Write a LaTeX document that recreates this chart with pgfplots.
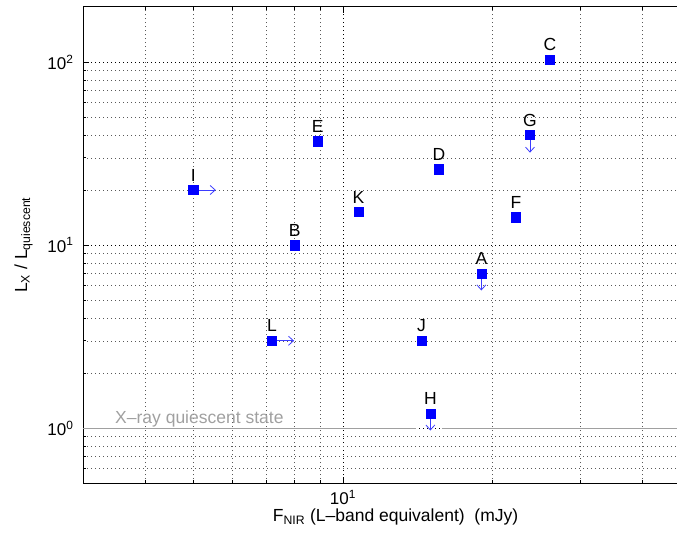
\documentclass[border=0pt]{standalone}
\usepackage{fontspec}
\setmainfont{Liberation Sans}
\usepackage{pgfplots}
\usepackage{pgfplotstable}
\pgfplotsset{compat=1.18}
\usetikzlibrary{arrows.meta}

\definecolor{mkblue}{RGB}{0,0,255}
\definecolor{arrblue}{RGB}{60,60,255}
\definecolor{qgray}{RGB}{160,160,160}

\pgfplotstableread{
x y lab
26.1 103 C
23.8 40 G
8.9 37 E
15.6 26 D
5.0 20 I
10.75 15.2 K
22.3 14.2 F
8.0 10 B
19.0 7 A
7.2 3 L
14.4 3 J
15.0 1.2 H
}\pts

\newcommand{\fs}{\fontsize{17.5}{19}\selectfont}
\newcommand{\ft}{\fontsize{17}{19}\selectfont}

\begin{document}
\begin{tikzpicture}
\begin{axis}[
  xmode=log, ymode=log,
  scale only axis,
  width=607.2pt, height=476.2pt,
  xmin=3, xmax=50, ymin=0.5, ymax=200,
  xtick={10}, xticklabels={10\textsuperscript{1}},
  ytick={1,10,100}, yticklabels={10\textsuperscript{0},10\textsuperscript{1},10\textsuperscript{2}},
  minor xtick={4,5,6,7,8,9,20,30,40},
  minor ytick={0.6,0.7,0.8,0.9,2,3,4,5,6,7,8,9,20,30,40,50,60,70,80,90},
  grid=both,
  major grid style={black, line width=0.5pt, dash pattern=on 0.8pt off 3.2pt},
  minor grid style={black!65, line width=0.5pt, dash pattern=on 0.8pt off 3.2pt},
  tick align=inside,
  major tick length=6pt, minor tick length=3pt,
  tick style={black, line width=0.6pt},
  axis line style={black, line width=1pt},
  ticklabel style={font=\ft},
  xticklabel style={inner sep=0pt, yshift=-7pt},
  yticklabel style={xshift=-6pt},
  xlabel={F\textsubscript{NIR} (L–band equivalent)\ \ (mJy)},
  ylabel={L\textsubscript{X} / L\textsubscript{quiescent}},
  label style={font=\fs},
  xlabel style={inner sep=0pt, yshift=-4pt, xshift=9pt},
  ylabel style={yshift=8pt},
  clip=false,
]
\coordinate (bl) at (rel axis cs:0,0);
\coordinate (tl) at (rel axis cs:0,1);

% quiescent level
\addplot[qgray, line width=1.1pt, forget plot] coordinates {(3,1) (14.06,1)};
\addplot[qgray, line width=1.1pt, forget plot] coordinates {(15.8,1) (50,1)};
\node[anchor=base west, inner sep=0pt, text=qgray, font=\fs] at (axis cs:3.48,1.061) {X–ray quiescent state};

% limit arrows
\addplot[arrblue, line width=0.8pt, -{Straight Barb[length=5pt,width=9pt]}] coordinates {(5.0,20) (5.55,20)};
\addplot[arrblue, line width=0.8pt, -{Straight Barb[length=5pt,width=9pt]}] coordinates {(7.2,3) (7.98,3)};
\addplot[arrblue, line width=0.8pt, -{Straight Barb[length=5pt,width=9pt]}] coordinates {(23.8,40) (23.8,32.0)};
\addplot[arrblue, line width=0.8pt, -{Straight Barb[length=5pt,width=9pt]}] coordinates {(19.0,7) (19.0,5.65)};
\addplot[arrblue, line width=0.8pt, -{Straight Barb[length=5pt,width=9pt]}] coordinates {(15.0,1.2) (15.0,0.97)};

% points
\addplot[only marks, mark=square*, mark size=4.65pt, mark options={draw=mkblue, fill=mkblue},
  point meta=explicit symbolic,
  nodes near coords,
  every node near coord/.append style={anchor=base, yshift=8.8pt, inner sep=0pt, font=\fs, text=black}]
  table[x=x, y=y, meta=lab] {\pts};
\end{axis}
\pgfresetboundingbox
\useasboundingbox ([shift={(-83pt,-52.8pt)}]bl) rectangle ([shift={(594pt,7pt)}]tl);
\end{tikzpicture}
\end{document}
